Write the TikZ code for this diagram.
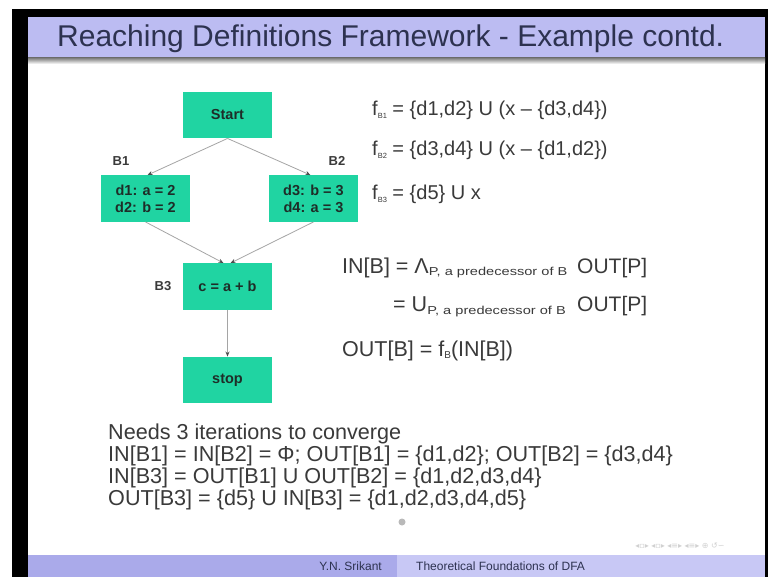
\documentclass[tikz,border=0pt]{standalone}
\usepackage{fontspec}
\setmainfont{Liberation Sans}
\newfontfamily\symfont{DejaVu Sans}
\usetikzlibrary{arrows.meta}

\definecolor{slidebar}{RGB}{188,188,242}
\definecolor{footdark}{RGB}{170,170,234}
\definecolor{footlight}{RGB}{200,200,245}
\definecolor{titleink}{RGB}{45,50,80}
\definecolor{blockfill}{RGB}{32,212,162}
\definecolor{blockink}{RGB}{30,45,40}
\definecolor{bodyink}{RGB}{58,58,58}
\definecolor{edgegray}{RGB}{165,165,165}

\newcommand{\fsz}[1]{\fontsize{#1}{#1}\selectfont}
\newcommand{\lowsub}[2]{\raisebox{-2.5pt}{\fsz{#1}#2}}
% wide, small subscript used under the meet operators
\newcommand{\widesub}[1]{\raisebox{-2.5pt}{\scalebox{1.27}[1]{\fsz{11.5}#1}}}

\begin{document}
\begin{tikzpicture}[x=1pt,y=-1pt,
  cfgblock/.style={fill=blockfill, minimum width=89pt, minimum height=46.5pt,
    inner sep=0pt, text=blockink, font=\fontsize{14.5}{17}\selectfont\bfseries, align=center},
  blocklabel/.style={text=bodyink, font=\fsz{13}\bfseries, inner sep=0pt},
  flow/.style={draw=edgegray, line width=0.8pt,
    -{Stealth[length=5pt,width=4pt,color=black!70]}},
  eqn/.style={anchor=base west, inner sep=0pt, text=bodyink},
]
% frame and slide background
\useasboundingbox (0,0) rectangle (768,577);
\fill[white] (0,0) rectangle (768,577);
\fill[black] (12,9) rectangle (768,577);
\fill[white] (28,17) rectangle (765,577);

% title bar
\fill[slidebar] (28,17) rectangle (765,58);
\shade[top color=black!50, bottom color=white] (28,58) rectangle (765,64);
\node[anchor=base west, inner sep=0pt, font=\fsz{30}, text=titleink] (title) at (57,47)
  {Reaching Definitions Framework - Example contd.};

% footer
\fill[footdark] (28,555) rectangle (397,577);
\fill[footlight] (397,555) rectangle (765,577);
\node[anchor=east, inner sep=0pt, font=\fsz{12}, text=titleink] (author) at (382,566) {Y.N. Srikant};
\node[anchor=west, inner sep=0pt, font=\fsz{12}, text=titleink] (talk) at (416,566) {Theoretical Foundations of DFA};
\node[anchor=center, inner sep=0pt, font=\symfont\fsz{8}, text=black!18] (nav) at (680,546)
  {◂▫▸ ◂▫▸ ◂≡▸ ◂≡▸ ⊕ ↺∽};

% flow graph
\node[cfgblock] (start) at (227.5,115) {Start};
\node[cfgblock] (b1) at (145.5,198.5) {d1: a = 2\\d2: b = 2};
\node[cfgblock] (b2) at (313.5,198.5) {d3: b = 3\\d4: a = 3};
\node[cfgblock] (b3) at (227.5,286.5) {c = a + b};
\node[cfgblock] (stop) at (227.5,380) {stop};

\node[blocklabel] (l1) at (121,161) {B1};
\node[blocklabel] (l2) at (337,161) {B2};
\node[blocklabel] (l3) at (163,286) {B3};

\draw[flow] (start.south) -- ([xshift=2pt]b1.north);
\draw[flow] (start.south) -- ([xshift=-3pt]b2.north);
\draw[flow] (b1.south) -- ([xshift=-4pt]b3.north);
\draw[flow] (b2.south) -- ([xshift=3pt]b3.north);
\draw[flow] (b3) -- (stop);

% transfer functions
\node[eqn, font=\fsz{20}] (fb1) at (372,116) {f\lowsub{7.5}{B1} = \{d1,d2\} U (x – \{d3,d4\})};
\node[eqn, font=\fsz{20}] (fb2) at (372,156) {f\lowsub{7.5}{B2} = \{d3,d4\} U (x – \{d1,d2\})};
\node[eqn, font=\fsz{20}] (fb3) at (372,200) {f\lowsub{7.5}{B3} = \{d5\} U x};

% data-flow equations
\node[eqn, font=\fsz{21.5}] (in1) at (342,273) {IN[B] = Λ\widesub{P, a predecessor of B}};
\node[eqn, font=\fsz{21}] (in1o) at (577,273) {OUT[P]};
\node[eqn, font=\fsz{21.5}] (in2) at (393,312) {= U\widesub{P, a predecessor of B}};
\node[eqn, font=\fsz{21}] (in2o) at (577,312) {OUT[P]};
\node[eqn, font=\fsz{21.5}] (out1) at (342,356) {OUT[B] = f\lowsub{10}{B}(IN[B])};

% iteration summary
\node[eqn, font=\fsz{21.6}] (s1) at (108,439) {Needs 3 iterations to converge};
\node[eqn, font=\fsz{21.6}] (s2) at (108,461) {IN[B1] = IN[B2] = Φ; OUT[B1] = \{d1,d2\}; OUT[B2] = \{d3,d4\}};
\node[eqn, font=\fsz{21.6}] (s3) at (108,483) {IN[B3] = OUT[B1] U OUT[B2] = \{d1,d2,d3,d4\}};
\node[eqn, font=\fsz{21.6}] (s4) at (108,505) {OUT[B3] = \{d5\} U IN[B3] = \{d1,d2,d3,d4,d5\}};

% pointer mark
\fill[gray!55] (402,522) circle (3.5pt);
\end{tikzpicture}
\end{document}
